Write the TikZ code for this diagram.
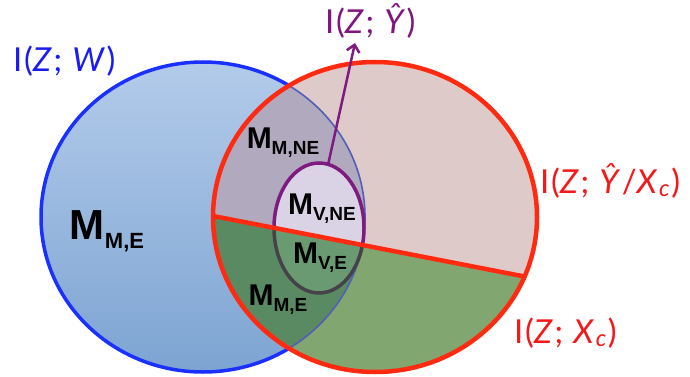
\documentclass[tikz,border=0pt]{standalone}
\usepackage{fontspec}
\setmainfont{Lato}
\newfontfamily\arialfont{Liberation Sans}
\usetikzlibrary{arrows.meta}
\definecolor{bluefillTop}{HTML}{B3CBEA}
\definecolor{bluefillBot}{HTML}{7DA4D2}
\definecolor{blueedge}{HTML}{1A30FF}
\definecolor{pinkfill}{HTML}{DFCACA}
\definecolor{greenfill}{HTML}{82A66F}
\definecolor{interup}{HTML}{B1A9BE}
\definecolor{interlow}{HTML}{5A8A62}
\definecolor{smallup}{HTML}{DAD2E5}
\definecolor{smalllow}{HTML}{6A9A72}
\definecolor{rededge}{HTML}{FF2A10}
\definecolor{purpleedge}{HTML}{7E1A80}
\definecolor{grayedge}{HTML}{46424A}
\definecolor{labblue}{HTML}{1A1AF5}
\definecolor{labred}{HTML}{F5181A}
\definecolor{labpurple}{HTML}{80157F}
\newcommand\Mlab[4]{{\arialfont\bfseries\fontsize{#1}{#1}\selectfont M\raisebox{-#3pt}{\fontsize{#2}{#2}\selectfont #4}}}
\newcommand\Ilab[1]{{\fontsize{33}{33}\selectfont\addfontfeatures{LetterSpace=5}#1}}
\tikzset{
  lab/.style={inner sep=0pt, anchor=base west},
  mlab/.style={inner sep=0pt, text=black},
}
\begin{document}
\begin{tikzpicture}[x=1pt,y=-1pt]
\useasboundingbox (0,0) rectangle (690,377);
\def\blueell{(203,217) ellipse [x radius=162, y radius=155]}
\def\redell{(375,217) ellipse [x radius=162, y radius=155]}
\def\above{(0,174.6) -- (690,308.4) -- (690,0) -- (0,0) -- cycle}
\def\below{(0,174.6) -- (690,308.4) -- (690,377) -- (0,377) -- cycle}
\def\smallell{(319,228) ellipse [x radius=45, y radius=65]}
% blue circle
\shade[top color=bluefillTop, bottom color=bluefillBot] \blueell;
\draw[blueedge, line width=3.5pt] \blueell;
% red circle fills
\begin{scope}
  \clip \redell;
  \fill[pinkfill] \above;
  \fill[greenfill] \below;
  \begin{scope}
    \clip \blueell;
    \fill[interup] \above;
    \fill[interlow] \below;
  \end{scope}
  \draw[color={rgb,255:red,80;green,96;blue,184}, line width=1.6pt] \blueell;
\end{scope}
\draw[rededge, line width=4.5pt] \redell;
\coordinate (la) at (213,216);
\coordinate (lb) at (525,276.6);
% small ellipse
\begin{scope}
  \clip \smallell;
  \fill[smallup] \above;
  \fill[smalllow] \below;
\end{scope}
\begin{scope}
  \clip \above;
  \draw[purpleedge, line width=3.5pt] \smallell;
\end{scope}
\begin{scope}
  \clip \below;
  \draw[grayedge, line width=3.5pt] \smallell;
\end{scope}
\draw[rededge, line width=4.5pt] (la) -- (lb);
% arrow
\coordinate (as) at (328,165);
\coordinate (ae) at (355,43);
\draw[purpleedge, line width=2.5pt, -{Straight Barb[length=7pt,width=13pt,line width=2.5pt]}] (as) -- (ae);
% M labels
\node[mlab] (mme) at (107,231) {\Mlab{42}{22}{9}{M,E}};
\node[mlab] (mmne) at (283,143) {\Mlab{30}{19}{6}{M,NE}};
\node[mlab] (mvne) at (322,209) {\Mlab{30}{19}{6}{V,NE}};
\node[mlab] (mve) at (320,258) {\Mlab{30}{19}{6}{V,E}};
\node[mlab] (mme2) at (278,300) {\Mlab{30}{19}{6}{M,E}};
% I labels
\node[lab, text=labblue] (izw) at (13,72) {\Ilab{I(\textit{Z}; \textit{W})}};
\node[lab, text=labpurple] (izy) at (325,34) {\Ilab{I(\textit{Z}; \textit{Ŷ})}};
\node[lab, text=labred] (izyx) at (540,193) {\Ilab{I(\textit{Z}; \textit{Ŷ}/\textit{X}\textsubscript{\textit{c}})}};
\node[lab, text=labred] (izx) at (514,343) {\Ilab{I(\textit{Z}; \textit{X}\textsubscript{\textit{c}})}};
\end{tikzpicture}
\end{document}
